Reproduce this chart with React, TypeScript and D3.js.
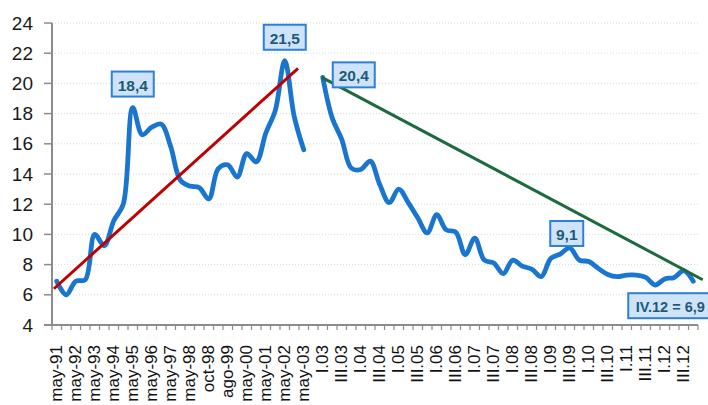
import React from 'react';
import * as d3 from 'd3';

const W = 708;
const H = 405;

const categories = [
  'may-91', '', 'may-92', '', 'may-93', '', 'may-94', '', 'may-95', '', 'may-96', '', 'may-97', '',
  'may-98', '', 'oct-98', '', 'ago-99', '', 'may-00', '', 'may-01', '', 'may-02', '', 'may-03', '',
  'I.03', '', 'III.03', '', 'I.04', '', 'III.04', '', 'I.05', '', 'III.05', '', 'I.06', '', 'III.06', '',
  'I.07', '', 'III.07', '', 'I.08', '', 'III.08', '', 'I.09', '', 'III.09', '', 'I.10', '', 'III.10', '',
  'I.11', '', 'III.11', '', 'I.12', '', 'III.12', '',
];

// first period, categories 0..26
const seriesA = [
  6.9, 6.0, 6.9, 7.0, 10.0, 9.25, 10.9, 12.0, 18.4, 16.6, 17.1, 17.3, 15.8, 13.6,
  13.2, 13.1, 12.35, 14.35, 14.6, 13.8, 15.35, 14.8, 16.7, 18.2, 21.5, 17.8, 15.6,
];
// second period, categories 28..67
const seriesBStart = 28;
const seriesB = [
  20.4, 17.7, 16.3, 14.4, 14.3, 14.85, 13.3, 12.1, 13.0, 12.1, 11.1, 10.1, 11.3, 10.3,
  10.15, 8.65, 9.75, 8.3, 8.1, 7.4, 8.3, 7.9, 7.7, 7.2, 8.4, 8.7, 9.1, 8.3,
  8.2, 7.75, 7.35, 7.2, 7.3, 7.3, 7.15, 6.65, 7.05, 7.15, 7.6, 6.9,
];

// trend lines: [category position, value]
const redTrend: [number, number][] = [[-0.3, 6.4], [25.4, 21.0]];
const greenTrend: [number, number][] = [[27.9, 20.4], [68.0, 7.0]];

const yTicks = [4, 6, 8, 10, 12, 14, 16, 18, 20, 22, 24];

// callouts: category, value, text, placement
const callouts = [
  { i: 8, v: 18.4, text: '18,4', pos: 'above' },
  { i: 24, v: 21.5, text: '21,5', pos: 'above' },
  { i: 28, v: 20.4, text: '20,4', pos: 'right' },
  { i: 54, v: 9.1, text: '9,1', pos: 'aboveTight' },
  { i: 67, v: 6.9, text: 'IV.12 = 6,9', pos: 'below' },
];

const App = () => {
  const left = 52, right = 698, top = 23, bottom = 325;

  const x = d3.scaleLinear().domain([0, categories.length]).range([left, right]);
  const xc = (i: number) => x(i + 0.5);
  const y = d3.scaleLinear().domain([4, 24]).range([bottom, top]);

  const line = d3.line<[number, number]>()
    .x(d => xc(d[0]))
    .y(d => y(d[1]))
    .curve(d3.curveCatmullRom.alpha(0.5));
  const straight = d3.line<[number, number]>().x(d => xc(d[0])).y(d => y(d[1]));

  const ptsA: [number, number][] = seriesA.map((v, i) => [i, v]);
  const ptsB: [number, number][] = seriesB.map((v, i) => [seriesBStart + i, v]);

  const font = '"Liberation Sans", Arial, sans-serif';
  const boxW = (t: string) => (t.length > 5 ? 84 : t.length > 3 ? 42 : 33);
  const boxH = 25;

  return (
    <svg width={W} height={H} style={{ position: 'absolute', left: 0, top: 0, background: '#fff' }}
      fontFamily={font}>
      {/* gridlines */}
      {yTicks.filter(t => t > 4).map(t => (
        <line key={'g' + t} x1={left} x2={right} y1={y(t)} y2={y(t)}
          stroke="#d9d9d9" strokeDasharray="1,2" />
      ))}
      {/* y axis */}
      <line x1={left} x2={left} y1={top} y2={bottom} stroke="#8c8c8c" strokeWidth={2} />
      {yTicks.map(t => (
        <g key={'y' + t}>
          <line x1={left - 8} x2={left} y1={y(t)} y2={y(t)} stroke="#8c8c8c" strokeWidth={1.5} />
          <text x={33} y={y(t)} textAnchor="end" dominantBaseline="central" fontSize={19}
            fill="#1a1a1a">{t}</text>
        </g>
      ))}
      {/* x axis */}
      <line x1={left - 8} x2={right} y1={bottom} y2={bottom} stroke="#8c8c8c" strokeWidth={2} />
      {d3.range(categories.length + 1).map(i => (
        <line key={'xt' + i} x1={x(i)} x2={x(i)} y1={bottom} y2={bottom + 5} stroke="#8c8c8c"
          strokeWidth={1.2} />
      ))}
      {categories.map((c, i) => c ? (
        <text key={'xl' + i} transform={`translate(${xc(i)},345) rotate(-90)`} textAnchor="end"
          dominantBaseline="central" fontSize={17} fill="#111">{c}</text>
      ) : null)}

      {/* data lines */}
      <path d={line(ptsA) || ''} fill="none" stroke="#1a75cf" strokeWidth={4.8}
        strokeLinejoin="round" strokeLinecap="round" />
      <path d={line(ptsB) || ''} fill="none" stroke="#1a75cf" strokeWidth={4.8}
        strokeLinejoin="round" strokeLinecap="round" />

      {/* trend lines */}
      <path d={straight(redTrend) || ''} stroke="#c00000" strokeWidth={3} fill="none" />
      <path d={straight(greenTrend) || ''} stroke="#1d6a3e" strokeWidth={3} fill="none" />

      {/* callouts */}
      {callouts.map(c => {
        const px = xc(c.i), py = y(c.v);
        const w = boxW(c.text);
        let bx = px - w / 2, by = py - boxH - 11;
        if (c.pos === 'right') { bx = px + 10; by = py - 15; }
        if (c.pos === 'aboveTight') { bx = px - w / 2 - 3; by = py - boxH - 2; }
        if (c.pos === 'below') { bx = px - 65; by = py + 12; }
        return (
          <g key={c.text}>
            <rect x={bx} y={by} width={w} height={boxH} fill="#cfe3f8" stroke="#2f7fd6"
              strokeWidth={2} />
            <text x={bx + w / 2} y={by + boxH / 2 + 1} textAnchor="middle" dominantBaseline="central"
              fontSize={c.text.length > 5 ? 14.5 : 15.5} fontWeight="bold" fill="#1d5a78">{c.text}</text>
          </g>
        );
      })}
    </svg>
  );
};

export default App;
